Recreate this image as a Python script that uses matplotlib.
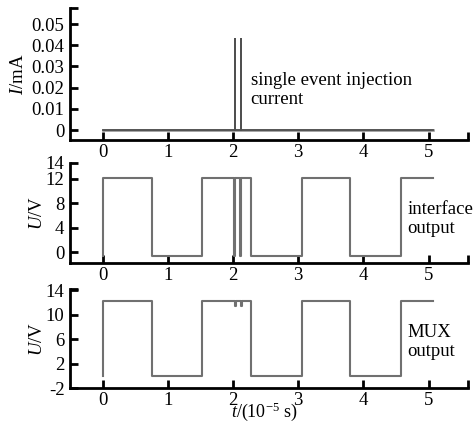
import matplotlib
matplotlib.use('Agg')
import matplotlib.pyplot as plt

plt.rcParams['font.family'] = ['Liberation Serif', 'DejaVu Serif']
plt.rcParams['mathtext.fontset'] = 'custom'
plt.rcParams['mathtext.rm'] = 'Liberation Serif'
plt.rcParams['mathtext.it'] = 'Liberation Serif:italic'
plt.rcParams['font.size'] = 13.5

# 单粒子注入电流 (mA)
t_cur = [0, 2.03, 2.03, 2.03, 2.12, 2.12, 2.12, 5.07]
i_cur = [0, 0, 0.043, 0, 0, 0.043, 0, 0]

# 接口输出 (V)
t_if = [0, 0, 0.75, 0.75, 1.52, 1.52, 2.02, 2.02, 2.035, 2.035, 2.11, 2.11,
        2.125, 2.125, 2.27, 2.27, 3.05, 3.05, 3.79, 3.79, 4.58, 4.58, 5.07]
u_if = [-0.6, 12.2, 12.2, -0.6, -0.6, 12.2, 12.2, -0.6, -0.6, 12.2, 12.2, -0.6,
        -0.6, 12.2, 12.2, -0.6, -0.6, 12.2, 12.2, -0.6, -0.6, 12.2, 12.2]

# MUX 输出 (V)
t_mux = [0, 0, 0.75, 0.75, 1.52, 1.52, 2.03, 2.03, 2.04, 2.04, 2.12, 2.12,
         2.13, 2.13, 2.27, 2.27, 3.05, 3.05, 3.79, 3.79, 4.58, 4.58, 5.07]
u_mux = [0, 12.2, 12.2, 0, 0, 12.2, 12.2, 11.4, 11.4, 12.2, 12.2, 11.4,
         11.4, 12.2, 12.2, 0, 0, 12.2, 12.2, 0, 0, 12.2, 12.2]

xticks = [0, 1, 2, 3, 4, 5]

fig = plt.figure(figsize=(4.73, 4.25), dpi=100)
ax1 = fig.add_axes([0.148, 0.6706, 0.841, 0.310])
ax2 = fig.add_axes([0.148, 0.381, 0.841, 0.2355])
ax3 = fig.add_axes([0.148, 0.0864, 0.841, 0.2336])

line_col = '#707070'


def style(ax, ylim, yticks, yticklabels):
    ax.set_xlim(-0.5, 5.6)
    ax.set_ylim(*ylim)
    ax.set_xticks(xticks)
    ax.set_yticks(yticks)
    ax.set_yticklabels(yticklabels)
    ax.set_xticks([5.6], minor=True)
    ax.set_yticks([ylim[1]], minor=True)
    for s in ['top', 'right']:
        ax.spines[s].set_visible(False)
    for s in ['left', 'bottom']:
        ax.spines[s].set_linewidth(2)
    ax.tick_params(which='both', direction='in', length=6, width=2, pad=4)
    ax.tick_params(axis='x', pad=3)
    ax.patch.set_alpha(0)


ax1.plot([0, 5.07], [0, 0], color='#8a8a8a', lw=1.8)
ax1.plot(t_cur, i_cur, color='#505050', lw=1.3)
style(ax1, (-0.0047, 0.0575), [0, 0.01, 0.02, 0.03, 0.04, 0.05],
      ['0', '0.01', '0.02', '0.03', '0.04', '0.05'])
ax1.set_ylabel('$I$/mA', labelpad=3)
ax1.text(2.27, 0.019, 'single event injection\ncurrent', va='center', ha='left',
         linespacing=1.15)

ax2.plot(t_if, u_if, color=line_col, lw=1.5)
style(ax2, (-1.8, 14.6), [0, 4, 8, 12], ['0', '4', '8', '12'])
ax2.set_yticks([0, 4, 8, 12, 14.6], ['0', '4', '8', '12', '14'])
ax2.set_ylabel('$U$/V', labelpad=0)
ax2.text(4.67, 5.4, 'interface\noutput', va='center', ha='left', linespacing=1.15)

ax3.plot(t_mux, u_mux, color=line_col, lw=1.5)
style(ax3, (-2, 14.2), [-2, 2, 6, 10, 14], ['-2', '2', '6', '10', '14'])
ax3.set_ylabel('$U$/V', labelpad=0)
ax3.text(4.67, 5.6, 'MUX\noutput', va='center', ha='left', linespacing=1.15)
fig.text(0.56, 0.004, '$t$/(10$^{-5}$ s)', ha='center', va='bottom', fontsize=13)

fig.savefig('out.png', dpi=100)
